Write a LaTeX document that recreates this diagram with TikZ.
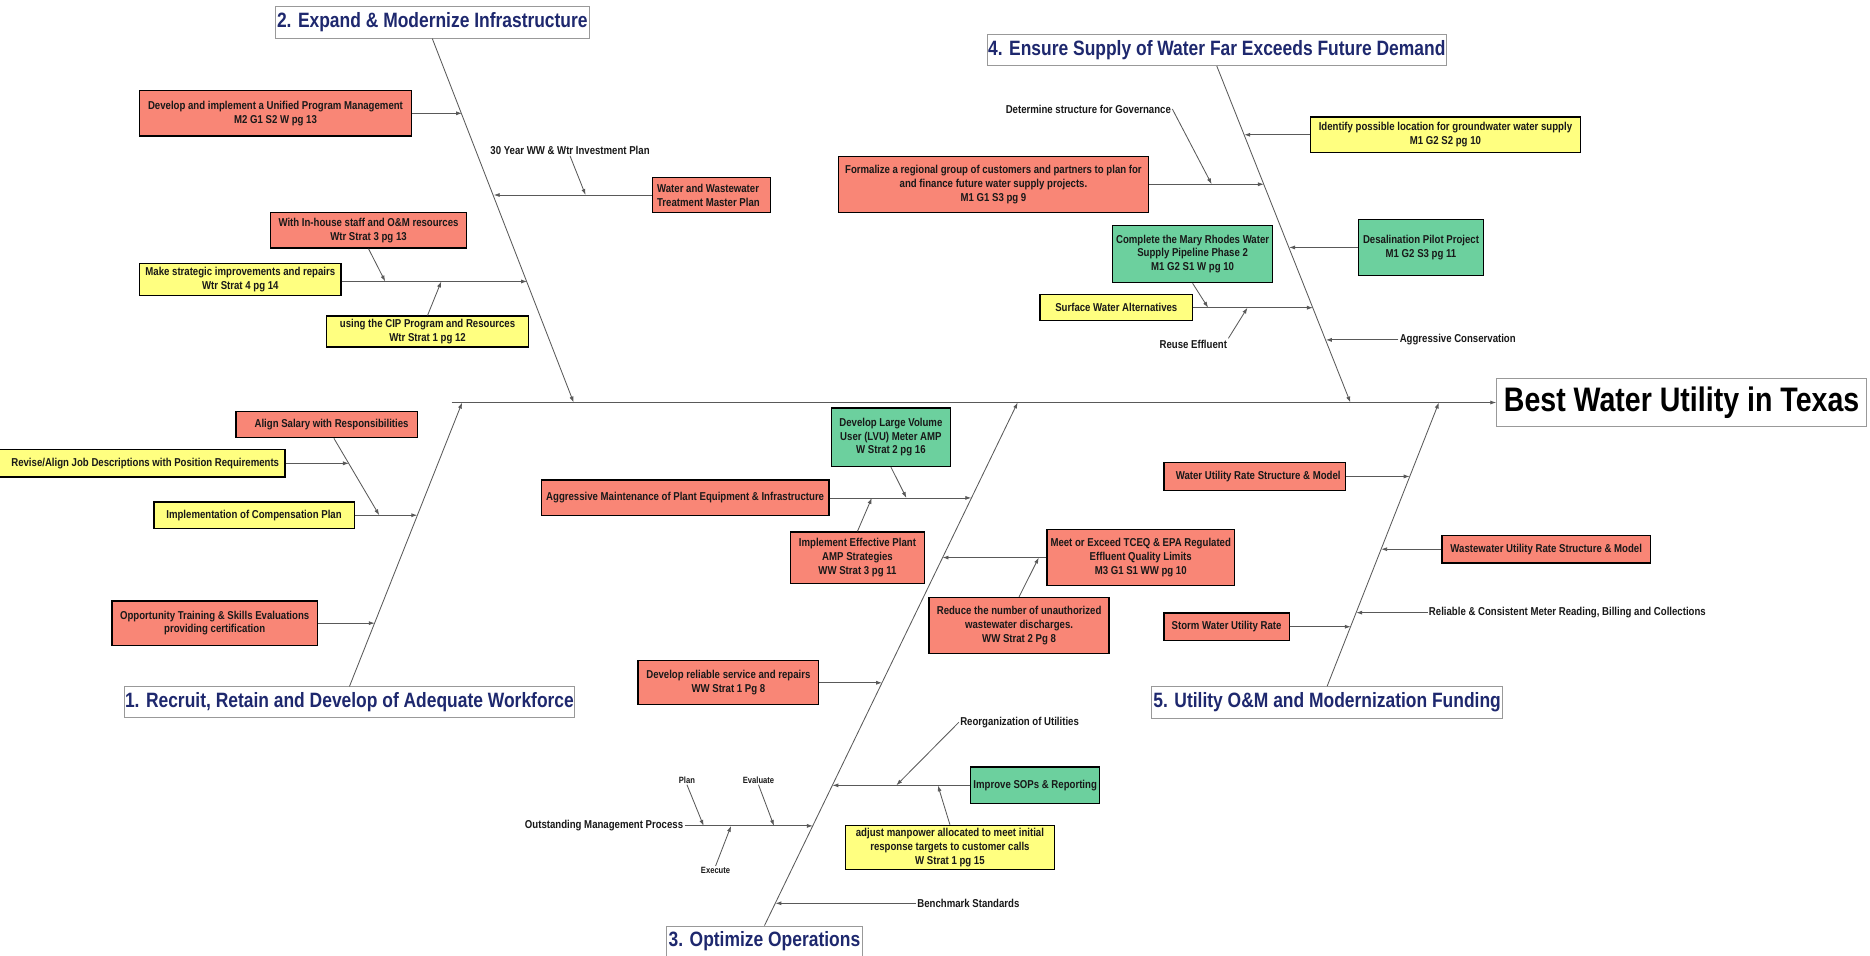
\documentclass[tikz,border=0pt]{standalone}
\usepackage{fontspec}
\setmainfont{Liberation Sans}[FakeStretch=0.84]
\usetikzlibrary{arrows.meta}
\definecolor{fbred}{RGB}{249,134,118}
\definecolor{fbyel}{RGB}{255,255,128}
\definecolor{fbgrn}{RGB}{108,208,158}
\definecolor{fbnavy}{RGB}{30,40,110}
\newcommand{\fbBox}{\fontsize{9.6}{11.6}\selectfont\bfseries}
\newcommand{\fbSmall}{\fontsize{7.6}{9}\selectfont\bfseries}
\newcommand{\fbTitle}{\fontsize{17.4}{20}\selectfont\bfseries}
\newcommand{\fbBig}{\fontsize{28.5}{32}\selectfont\bfseries}
\tikzset{
  fbbox/.style={draw=black, line width=1.1pt, inner xsep=2pt, inner ysep=0pt, align=center, font=\fbBox, text=black!90},
  redbox/.style={fbbox, fill=fbred},
  yelbox/.style={fbbox, fill=fbyel},
  grnbox/.style={fbbox, fill=fbgrn},
  ttl/.style={draw=black!40, line width=0.8pt, fill=white, inner sep=0pt, text=fbnavy, font=\fbTitle},
  lbl/.style={inner sep=1pt, font=\fbBox, text=black!90},
  slbl/.style={inner sep=1pt, font=\fbSmall, text=black!90},
  bone/.style={draw=black!65, line width=0.7pt, -{Latex[length=5pt,width=3.4pt]}},
}
\begin{document}
\begin{tikzpicture}[x=1pt,y=-1pt]
\useasboundingbox (0,0) rectangle (1568,801);
\fill[white] (0,0) rectangle (1568,801);

% ---------- titles ----------
\node[ttl, minimum width=263pt, minimum height=26.4pt] (T2) at (362.5,18.8) {2. Expand \& Modernize Infrastructure};
\node[ttl, minimum width=385pt, minimum height=26pt] (T4) at (1020.3,42) {4. Ensure Supply of Water Far Exceeds Future Demand};
\node[ttl, minimum width=378pt, minimum height=26pt] (T1) at (293,589) {1. Recruit, Retain and Develop of Adequate Workforce};
\node[ttl, minimum width=164pt, minimum height=26pt] (T3) at (641,789.5) {3. Optimize Operations};
\node[ttl, minimum width=294.5pt, minimum height=26.5pt] (T5) at (1112.8,589) {5. Utility O\&M and Modernization Funding};
\node[draw=black!40, line width=0.8pt, fill=white, inner sep=0pt, font=\fbBig, minimum width=310pt, minimum height=40.5pt] (best) at (1410,337.5) {Best Water Utility in Texas};

% ---------- boxes ----------
\node[redbox, minimum width=228pt, minimum height=38pt] (dev) at (231,95) {Develop and implement a Unified Program Management\\M2 G1 S2 W pg 13};
\node[redbox, text width=91pt, inner xsep=4pt, align=flush left, minimum height=29pt] (mp) at (596.5,163.5) {Water and Wastewater\\Treatment Master Plan};
\node[redbox, minimum width=164pt, minimum height=30pt] (inh) at (309,193) {With In-house staff and O\&M resources\\Wtr Strat 3 pg 13};
\node[yelbox, minimum width=169pt, minimum height=27pt] (mk) at (201.5,234.5) {Make strategic improvements and repairs\\Wtr Strat 4 pg 14};
\node[yelbox, minimum width=169pt, minimum height=26pt] (cip) at (358.5,278) {using the CIP Program and Resources\\Wtr Strat 1 pg 12};

\node[redbox, minimum width=260pt, minimum height=47pt] (frm) at (833,154.5) {Formalize a regional group of customers and partners to plan for\\and finance future water supply projects.\\M1 G1 S3 pg 9};
\node[yelbox, minimum width=226pt, minimum height=30pt] (idf) at (1212,113) {Identify possible location for groundwater water supply\\M1 G2 S2 pg 10};
\node[grnbox, minimum width=134pt, minimum height=48pt] (mr) at (1000,213) {Complete the Mary Rhodes Water\\Supply Pipeline Phase 2\\M1 G2 S1 W pg 10};
\node[grnbox, minimum width=105pt, minimum height=47pt] (des) at (1191.5,207.5) {Desalination Pilot Project\\M1 G2 S3 pg 11};
\node[yelbox, minimum width=128pt, minimum height=22pt] (sw) at (936,258) {Surface Water Alternatives};

\node[redbox, minimum width=152pt, minimum height=22pt] (sal) at (274,356) {\hspace*{8pt}Align Salary with Responsibilities};
\node[yelbox, text width=237pt, inner xsep=5pt, align=flush right, minimum height=23pt] (rev) at (115.5,388.5) {Revise/Align Job Descriptions with Position Requirements};
\node[yelbox, minimum width=168pt, minimum height=22pt] (cmp) at (213,432) {Implementation of Compensation Plan};
\node[redbox, minimum width=172pt, minimum height=37pt] (opp) at (180,522.5) {Opportunity Training \& Skills Evaluations\\providing certification};

\node[grnbox, minimum width=100pt, minimum height=49pt] (lvu) at (747,366.5) {Develop Large Volume\\User (LVU) Meter AMP\\W Strat 2 pg 16};
\node[redbox, minimum width=241pt, minimum height=30pt] (am) at (574.5,417.5) {Aggressive Maintenance of Plant Equipment \& Infrastructure};
\node[redbox, minimum width=112pt, minimum height=43pt] (iep) at (719,467.5) {Implement Effective Plant\\AMP Strategies\\WW Strat 3 pg 11};
\node[redbox, minimum width=157pt, minimum height=47pt] (meet) at (956.5,467.5) {Meet or Exceed TCEQ \& EPA Regulated\\Effluent Quality Limits\\M3 G1 S1 WW pg 10};
\node[redbox, minimum width=151pt, minimum height=47pt] (rdc) at (854.5,524.5) {Reduce the number of unauthorized\\wastewater discharges.\\WW Strat 2 Pg 8};
\node[redbox, minimum width=151.5pt, minimum height=37pt] (drs) at (610.75,572.5) {Develop reliable service and repairs\\WW Strat 1 Pg 8};
\node[grnbox, minimum width=108pt, minimum height=31pt] (sop) at (868,658.5) {Improve SOPs \& Reporting};
\node[yelbox, minimum width=175pt, minimum height=37pt] (adj) at (796.5,710.5) {adjust manpower allocated to meet initial\\response targets to customer calls\\W Strat 1 pg 15};

\node[redbox, minimum width=152pt, minimum height=23pt] (wur) at (1052,399.5) {\hspace*{6pt}Water Utility Rate Structure \& Model};
\node[redbox, minimum width=175pt, minimum height=23pt] (wwr) at (1296.5,460.5) {Wastewater Utility Rate Structure \& Model};
\node[redbox, minimum width=105pt, minimum height=23pt] (stm) at (1028.5,525.5) {Storm Water Utility Rate};

% ---------- plain labels ----------
\node[lbl, anchor=west] (yr30) at (410,126) {30 Year WW \& Wtr Investment Plan};
\node[lbl, anchor=east] (gov) at (983,91.4) {Determine structure for Governance};
\node[lbl, anchor=east] (reuse) at (1030,288.4) {Reuse Effluent};
\node[lbl, anchor=west] (cons) at (1172.5,285) {Aggressive Conservation};
\node[lbl, anchor=west] (reorg) at (804,605.6) {Reorganization of Utilities};
\node[lbl, anchor=east] (omp) at (574,692.5) {Outstanding Management Process};
\node[slbl] (plan) at (576,654) {Plan};
\node[slbl] (eval) at (636,654) {Evaluate};
\node[slbl] (exec) at (600,730) {Execute};
\node[lbl, anchor=west] (bench) at (768,757.4) {Benchmark Standards};
\node[lbl, anchor=west] (rel) at (1197,513.7) {Reliable \& Consistent Meter Reading, Billing and Collections};

% ---------- coordinates on the spine and bones ----------
\coordinate (sp0) at (378.7,337.5);
\coordinate (t1end) at (387.5,337.5);
\coordinate (t2end) at (481,337.5);
\coordinate (t3end) at (853.3,337.5);
\coordinate (t4end) at (1132.3,337.5);
\coordinate (t5end) at (1206.5,337.5);

% bone 2
\coordinate (t2a) at (387.4,95);
\coordinate (t2b) at (414,163.5);
\coordinate (t2c) at (442,236);
\coordinate (t2b1) at (491,163.5);
\coordinate (t2c1) at (323,236);
\coordinate (t2c2) at (370,236);
% bone 4
\coordinate (t4a) at (1043.3,113);
\coordinate (t4b) at (1059.8,154.5);
\coordinate (t4c) at (1080.9,207.5);
\coordinate (t4d) at (1100.9,258);
\coordinate (t4e) at (1111.7,285);
\coordinate (t4b1) at (1016,154.5);
\coordinate (t4d1) at (1013,258);
\coordinate (t4d2) at (1046,258);
% bone 1
\coordinate (t1a) at (349.9,432);
\coordinate (t1b) at (314.2,522.5);
\coordinate (t1a1) at (318,432);
\coordinate (t1a2) at (292.6,388.5);
% bone 3
\coordinate (t3a) at (814.4,417.5);
\coordinate (t3b) at (790.3,467.5);
\coordinate (t3c) at (739.6,572.5);
\coordinate (t3d) at (698,658.5);
\coordinate (t3e) at (681.6,692.5);
\coordinate (t3f) at (650.2,757.4);
\coordinate (t3a1) at (760,417.5);
\coordinate (t3a2) at (731,417.5);
\coordinate (t3b1) at (871,467.5);
\coordinate (t3d1) at (751.6,658.5);
\coordinate (t3d2) at (786.4,658.5);
\coordinate (t3e1) at (590,692.5);
\coordinate (t3e2) at (649,692.5);
\coordinate (t3e3) at (613,692.5);
% bone 5
\coordinate (t5a) at (1182,399.5);
\coordinate (t5b) at (1158.1,460.5);
\coordinate (t5c) at (1137.2,513.7);
\coordinate (t5d) at (1132.6,525.5);

% ---------- spine and main bones ----------
\draw[bone] (sp0) -- (best.west);
\draw[bone] (T2.south) -- (t2end);
\draw[bone] (T4.south) -- (t4end);
\draw[bone] (T1.north) -- (t1end);
\draw[bone] (T3.north) -- (t3end);
\draw[bone] (T5.north) -- (t5end);

% ---------- branches: bone 2 ----------
\draw[bone] (dev.east) -- (t2a);
\draw[bone] (mp.west) -- (t2b);
\draw[bone] (yr30.south) -- (t2b1);
\draw[bone] (mk.east |- t2c) -- (t2c);
\draw[bone] (inh.south) -- (t2c1);
\draw[bone] (cip.north) -- (t2c2);

% ---------- branches: bone 4 ----------
\draw[bone] (idf.west) -- (t4a);
\draw[bone] (frm.east) -- (t4b);
\draw[bone] (gov.east) -- (t4b1);
\draw[bone] (des.west) -- (t4c);
\draw[bone] (sw.east) -- (t4d);
\draw[bone] (mr.south) -- (t4d1);
\draw[bone] (reuse.north east) -- (t4d2);
\draw[bone] (cons.west) -- (t4e);

% ---------- branches: bone 1 ----------
\draw[bone] (cmp.east) -- (t1a);
\draw[bone] ([xshift=6pt]sal.south) -- (t1a1);
\draw[bone] (rev.east) -- (t1a2);
\draw[bone] (opp.east) -- (t1b);

% ---------- branches: bone 3 ----------
\draw[bone] (am.east) -- (t3a);
\draw[bone] (lvu.south) -- (t3a1);
\draw[bone] (iep.north) -- (t3a2);
\draw[bone] (meet.west) -- (t3b);
\draw[bone] (rdc.north) -- (t3b1);
\draw[bone] (drs.east) -- (t3c);
\draw[bone] (sop.west) -- (t3d);
\draw[bone] (reorg.west) -- (t3d1);
\draw[bone] (adj.north) -- (t3d2);
\draw[bone] (omp.east) -- (t3e);
\draw[bone] (plan.south) -- (t3e1);
\draw[bone] (eval.south) -- (t3e2);
\draw[bone] (exec.north) -- (t3e3);
\draw[bone] (bench.west) -- (t3f);

% ---------- branches: bone 5 ----------
\draw[bone] (wur.east) -- (t5a);
\draw[bone] (wwr.west) -- (t5b);
\draw[bone] (rel.west) -- (t5c);
\draw[bone] (stm.east) -- (t5d);
\end{tikzpicture}
\end{document}
